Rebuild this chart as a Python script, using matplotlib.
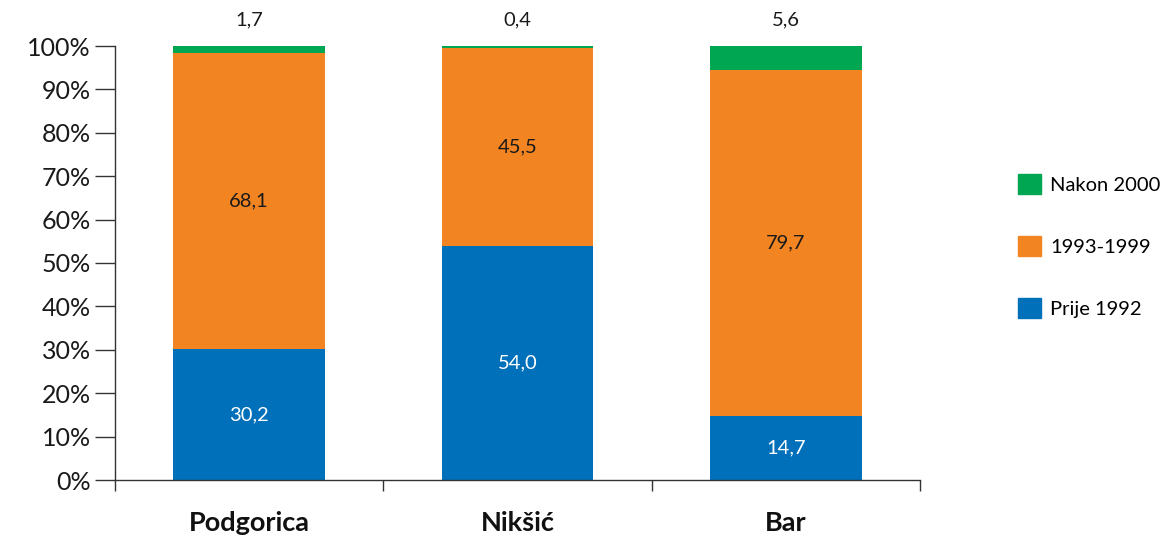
import matplotlib
matplotlib.use('Agg')
import matplotlib.pyplot as plt
from matplotlib.patches import Patch

plt.rcParams['font.family'] = ['Lato', 'DejaVu Sans']

cities = ['Podgorica', 'Nikšić', 'Bar']
prije_1992 = [30.2, 54.0, 14.7]
god_1993_1999 = [68.1, 45.5, 79.7]
nakon_2000 = [1.7, 0.4, 5.6]
series_names = ['Prije 1992', '1993-1999', 'Nakon 2000']
colors = ['#0070BA', '#F38422', '#00A651']

fig = plt.figure(figsize=(11.69, 5.35), dpi=100)
ax = fig.add_axes([115/1169, 55/535, 805/1169, 434/535])

x = list(range(len(cities)))
w = 0.566
bottom = [0, 0, 0]
for vals, col in zip([prije_1992, god_1993_1999, nakon_2000], colors):
    ax.bar(x, vals, w, bottom=bottom, color=col, linewidth=0)
    bottom = [b + v for b, v in zip(bottom, vals)]

def fmt(v):
    return f'{v:.1f}'.replace('.', ',')

for i in x:
    ax.text(i, prije_1992[i] / 2, fmt(prije_1992[i]), ha='center', va='center',
            color='white', fontsize=14.5)
    ax.text(i, prije_1992[i] + god_1993_1999[i] / 2, fmt(god_1993_1999[i]),
            ha='center', va='center', color='#1a1a1a', fontsize=14.5)
    ax.text(i, 106, fmt(nakon_2000[i]), ha='center', va='center',
            color='#1a1a1a', fontsize=14.5, clip_on=False)

ax.set_xlim(-0.5, 2.5)
ax.set_ylim(0, 100)
ax.set_yticks(range(0, 101, 10))
ax.set_yticklabels([f'{v}%' for v in range(0, 101, 10)], fontsize=18, color='#1a1a1a')
ax.tick_params(axis='y', length=14.4, width=1, color='#333333', pad=3)

ax.set_xticks(x)
ax.set_xticklabels(cities, fontsize=19.5, fontweight='bold', color='#111111')
ax.tick_params(axis='x', which='major', length=0, pad=22)
ax.set_xticks([-0.5, 0.5, 1.5, 2.5], minor=True)
ax.tick_params(axis='x', which='minor', length=8, width=1, color='#333333')

for s in ['top', 'right']:
    ax.spines[s].set_visible(False)
for s in ['left', 'bottom']:
    ax.spines[s].set_color('#333333')
    ax.spines[s].set_linewidth(1)

handles = [Patch(color=colors[k], label=series_names[k]) for k in [2, 1, 0]]
fig.legend(handles=handles, loc='upper left', bbox_to_anchor=(1010/1169, 1 - 166/535),
           frameon=False, fontsize=14.5, handlelength=1.15, handleheight=1.15,
           labelspacing=2.08, handletextpad=0.45, borderaxespad=0)

fig.savefig('out.png', dpi=100)
